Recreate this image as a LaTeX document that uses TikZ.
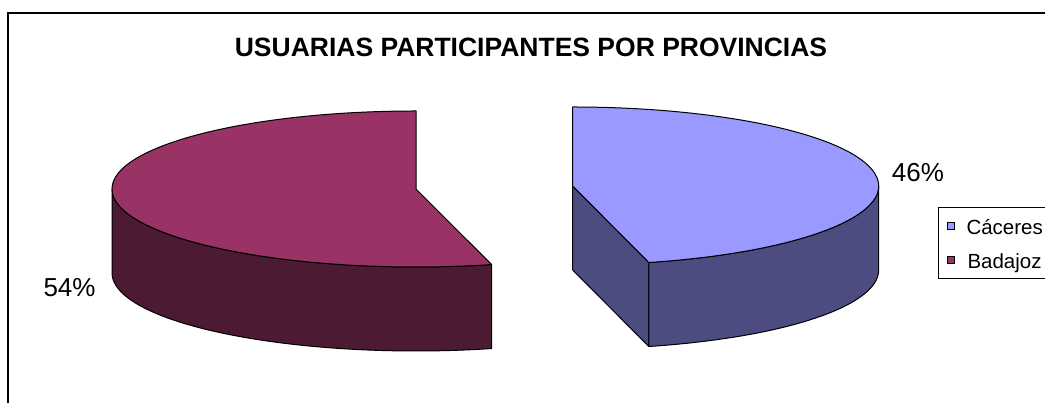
\documentclass[tikz,border=0pt]{standalone}
\usepackage{fontspec}
\setmainfont{Liberation Sans}
\definecolor{cactop}{HTML}{9999FF}
\definecolor{cacside}{HTML}{4C4C80}
\definecolor{badtop}{HTML}{993366}
\definecolor{badside}{HTML}{4D1A33}
\tikzset{
  face/.style={draw=black, line width=1pt, line join=round},
  lbl/.style={inner sep=0pt, anchor=base west, font=\fontsize{26}{30}\selectfont},
  lgtext/.style={inner sep=0pt, anchor=base west, font=\fontsize{20.5}{24}\selectfont},
  lgsq/.style={draw=black, line width=0.8pt, minimum size=7.5pt, inner sep=0pt},
  frame/.style={draw=black, line width=1.5pt},
}
\begin{document}
\begin{tikzpicture}[x=1pt,y=1pt]
\useasboundingbox (0,0) rectangle (1045,403);
% outer frame
\draw[frame] (1046,390) -- (8,390) -- (8,-2);
% title
\node[inner sep=0pt, anchor=base, font=\fontsize{26.5}{30}\selectfont\bfseries] (title) at (531,346) {USUARIAS PARTICIPANTES POR PROVINCIAS};
% Badajoz slice
\coordinate (bt) at (416,214);
\fill[badside, face] (bt) ++(180:304pt and 78pt) arc[start angle=180, end angle=284.4, x radius=304pt, y radius=78pt] -- ++(0,-84) arc[start angle=284.4, end angle=180, x radius=304pt, y radius=78pt] -- cycle;
\fill[badtop, face] (bt) -- ++(90:304pt and 78pt) arc[start angle=90, end angle=284.4, x radius=304pt, y radius=78pt] -- cycle;
% Caceres slice
\coordinate (ct) at (572.7,217);
\coordinate (cb) at (572.7,133);
\fill[cacside, face] (ct) -- ++(-75.6:306pt and 79pt) -- ++(0,-84) -- (cb) -- cycle;
\fill[cacside, face] (ct) ++(-75.6:306pt and 79pt) arc[start angle=-75.6, end angle=0, x radius=306pt, y radius=79pt] -- ++(0,-84) arc[start angle=0, end angle=-75.6, x radius=306pt, y radius=79pt] -- cycle;
\fill[cactop, face] (ct) -- ++(-75.6:306pt and 79pt) arc[start angle=-75.6, end angle=90, x radius=306pt, y radius=79pt] -- cycle;
% data labels
\node[lbl] (p46) at (891.7,221.3) {46\%};
\node[lbl] (p54) at (43.3,106.3) {54\%};
% legend
\draw[black, line width=1pt] (1046,195.7) -- (938.3,195.7) -- (938.3,124.7) -- (1046,124.7);
\node[lgsq, fill=cactop] (k1) at (951,177) {};
\node[lgsq, fill=badtop] (k2) at (951,143) {};
\node[lgtext] (t1) at (966.3,168.7) {Cáceres};
\node[lgtext] (t2) at (967.3,134) {Badajoz};
\end{tikzpicture}
\end{document}
